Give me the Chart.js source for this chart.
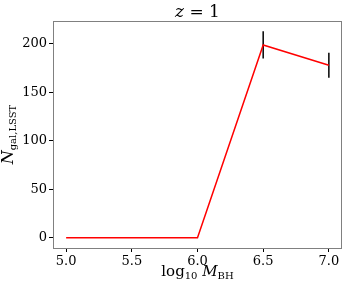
<!DOCTYPE html>
<html>
<head>
<meta charset="utf-8">
<script src="https://cdn.jsdelivr.net/npm/chart.js@4/dist/chart.umd.min.js"></script>
<style>
  html, body { margin: 0; padding: 0; background: #fff; }
</style>
</head>
<body>
<canvas id="myChart" width="351" height="289"></canvas>
<script>
// data
const massBins = [5.0, 5.5, 6.0, 6.5, 7.0];
const nGal = [0, 0, 0, 199, 178];
const nGalErr = [0, 0, 0, 14, 13];
const xTicks = [5.0, 5.5, 6.0, 6.5, 7.0];
const yTicks = [0, 50, 100, 150, 200];

const SERIF = '"DejaVu Serif", serif';

// draw a run of text pieces, each with own font and vertical shift
function drawRich(ctx, parts, cx, baseY) {
    let total = 0;
    parts.forEach(p => { ctx.font = p.font; p.w = ctx.measureText(p.text).width; total += p.w; });
    let xx = cx - total / 2;
    parts.forEach(p => {
        ctx.font = p.font;
        ctx.fillText(p.text, xx, baseY + (p.dy || 0));
        xx += p.w;
    });
}

const decor = {
    id: 'decor',
    beforeDatasetsDraw(chart) {
        const { ctx, scales: { x, y } } = chart;
        ctx.save();
        ctx.strokeStyle = '#000';
        ctx.lineWidth = 1.5;
        massBins.forEach((m, i) => {
            if (!nGalErr[i]) return;
            const px = x.getPixelForValue(m);
            ctx.beginPath();
            ctx.moveTo(px, y.getPixelForValue(nGal[i] - nGalErr[i]));
            ctx.lineTo(px, y.getPixelForValue(nGal[i] + nGalErr[i]));
            ctx.stroke();
        });
        ctx.restore();
    },
    afterDraw(chart) {
        const { ctx, chartArea: a } = chart;
        ctx.save();
        // frame
        ctx.strokeStyle = '#808080';
        ctx.lineWidth = 1;
        ctx.strokeRect(a.left + 0.5, a.top + 0.5, a.right - a.left - 1, a.bottom - a.top);

        ctx.fillStyle = '#000';
        ctx.textBaseline = 'alphabetic';
        ctx.textAlign = 'left';
        const cx = (a.left + a.right) / 2;

        // title
        drawRich(ctx, [
            { text: 'z', font: 'italic 17px ' + SERIF },
            { text: ' = 1', font: '17px ' + SERIF }
        ], cx, 17);

        // x title
        drawRich(ctx, [
            { text: 'log', font: '15px ' + SERIF },
            { text: '10', font: '10px ' + SERIF, dy: 3 },
            { text: ' M', font: 'italic 15px ' + SERIF },
            { text: 'BH', font: '10px ' + SERIF, dy: 3 }
        ], cx, 276);

        // y title
        ctx.translate(13, (a.top + a.bottom) / 2);
        ctx.rotate(-Math.PI / 2);
        drawRich(ctx, [
            { text: 'N', font: 'italic 16px ' + SERIF },
            { text: 'gal,LSST', font: '10px ' + SERIF, dy: 3 }
        ], 0, 0);
        ctx.restore();
    }
};

new Chart(document.getElementById('myChart'), {
    type: 'line',
    data: {
        datasets: [{
            data: massBins.map((m, i) => ({ x: m, y: nGal[i] })),
            borderColor: '#ff0000',
            borderWidth: 1.5,
            pointRadius: 0,
            tension: 0,
            fill: false
        }]
    },
    options: {
        responsive: false,
        animation: false,
        layout: { padding: { top: 21, right: 9, left: 0, bottom: 0 } },
        plugins: { legend: { display: false }, tooltip: { enabled: false }, title: { display: false } },
        scales: {
            x: {
                type: 'linear',
                min: 4.9,
                max: 7.1,
                afterBuildTicks: s => { s.ticks = xTicks.map(v => ({ value: v })); },
                afterFit: s => { s.height = 41; },
                ticks: {
                    callback: v => v.toFixed(1),
                    color: '#000',
                    font: { family: SERIF, size: 13 },
                    padding: 2,
                    maxRotation: 0
                },
                grid: { drawOnChartArea: false, drawTicks: true, tickLength: 4, color: '#000' },
                border: { display: false }
            },
            y: {
                min: -10.7,
                max: 223.7,
                afterBuildTicks: s => { s.ticks = yTicks.map(v => ({ value: v })); },
                afterFit: s => { s.width = 53; },
                ticks: {
                    color: '#000',
                    font: { family: SERIF, size: 13 },
                    padding: 2
                },
                grid: { drawOnChartArea: false, drawTicks: true, tickLength: 4, color: '#000' },
                border: { display: false }
            }
        }
    },
    plugins: [decor]
});
</script>
</body>
</html>
